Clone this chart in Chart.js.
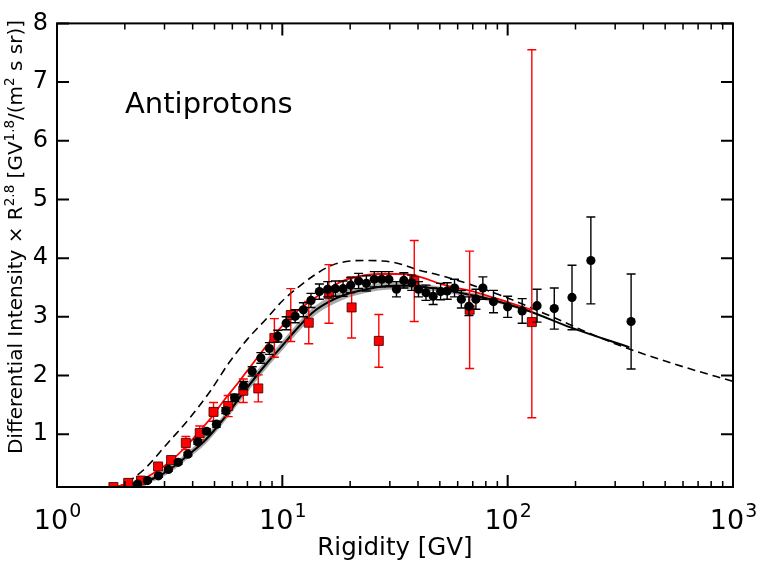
<!DOCTYPE html>
<html><head><meta charset="utf-8">
<script src="https://cdn.jsdelivr.net/npm/chart.js@4.4.1/dist/chart.umd.min.js"></script>
<style>html,body{margin:0;padding:0;background:#fff;}#wrap{width:759px;height:561px;}</style>
</head><body><div id="wrap"><canvas id="c" width="759" height="561"></canvas></div>
<script>
// ---- data ----
const blackR = [2.28,2.52,2.82,3.12,3.45,3.81,4.21,4.61,5.10,5.61,6.14,6.73,7.35,8.03,8.76,9.55,10.4,11.4,12.4,13.4,14.6,15.9,17.2,18.6,20.1,21.8,23.6,25.6,27.6,29.7,32.1,34.6,37.5,40.2,43.4,46.7,50.4,53.9,58.1,62.3,67.3,72.3,77.6,86.5,100,116,135,161,193,234,353];
const blackV = [0.15,0.21,0.29,0.40,0.52,0.66,0.87,1.05,1.17,1.40,1.62,1.83,2.07,2.30,2.46,2.67,2.89,3.01,3.12,3.28,3.43,3.47,3.48,3.48,3.54,3.61,3.57,3.64,3.64,3.64,3.47,3.62,3.58,3.47,3.41,3.35,3.43,3.44,3.49,3.30,3.18,3.30,3.49,3.26,3.17,3.10,3.19,3.14,3.33,3.96,2.92];
const blackErr = [0.02,0.02,0.02,0.03,0.03,0.03,0.04,0.04,0.05,0.05,0.06,0.07,0.08,0.09,0.10,0.10,0.11,0.11,0.12,0.12,0.13,0.13,0.13,0.13,0.13,0.13,0.13,0.13,0.13,0.13,0.13,0.13,0.13,0.13,0.13,0.14,0.14,0.14,0.15,0.15,0.16,0.17,0.19,0.19,0.18,0.21,0.28,0.35,0.55,0.74,0.81];

const redR = [1.78,2.07,2.36,2.81,3.21,3.73,4.30,4.95,5.75,6.71,7.82,9.22,10.9,13.1,16.1,20.3,26.8,38.5,67.8,128];
const redV = [0.10,0.17,0.21,0.45,0.56,0.85,1.02,1.38,1.48,1.74,1.78,2.64,3.03,2.90,3.39,3.16,2.59,3.61,3.12,2.91];
const redErrLow = [0.02,0.02,0.03,0.04,0.05,0.11,0.12,0.16,0.18,0.20,0.23,0.33,0.45,0.36,0.50,0.52,0.45,0.69,1.00,1.63];
const redErrHigh = [0.02,0.02,0.03,0.04,0.05,0.11,0.12,0.16,0.18,0.20,0.23,0.33,0.45,0.36,0.50,0.52,0.45,0.69,1.00,4.64];

const modelR = [1.73,2.2,2.78,3.3,3.89,4.5,5.10,5.8,6.69,7.7,8.76,9.70,11.5,13.6,16,19.07,22.4,26.7,31.7,37.6,44,52.6,63,73.7,95,124,190,347];
const modelV = [0.08,0.15,0.27,0.45,0.67,0.88,1.11,1.38,1.70,2.00,2.26,2.45,2.78,3.07,3.25,3.38,3.45,3.51,3.53,3.53,3.50,3.46,3.40,3.35,3.24,3.10,2.82,2.48];

const bandR = [2.2,2.78,3.3,3.89,4.5,5.10,5.8,6.69,7.7,8.76,9.70,11.5,13.6,16,19.07,22.4,26.7,31.7,37.6,44,52.6,63,73.7,95,124];
const bandLow = [0.11,0.22,0.39,0.61,0.81,1.04,1.31,1.62,1.92,2.18,2.37,2.70,2.99,3.17,3.31,3.39,3.45,3.47,3.48,3.45,3.42,3.36,3.31,3.21,3.08];
const bandHigh = [0.19,0.32,0.51,0.73,0.95,1.18,1.45,1.78,2.08,2.34,2.53,2.86,3.15,3.33,3.45,3.51,3.57,3.59,3.58,3.55,3.50,3.44,3.39,3.27,3.12];

const redLineR = [1.73,2.0,2.34,2.8,3.28,3.8,4.31,4.9,5.47,6.2,6.92,7.8,8.76,9.7,11.5,13.6,16,19.07,22.5,26.7,32,38,52.6,73.7,100,128];
const redLineV = [0.08,0.14,0.21,0.38,0.58,0.82,1.06,1.31,1.56,1.82,2.06,2.32,2.57,2.79,3.08,3.29,3.48,3.63,3.70,3.73,3.73,3.71,3.54,3.41,3.25,3.12];

const dashR = [1.6,1.91,2.42,3.07,3.89,4.76,5.83,7,8.46,10,11.9,14,16.6,20,23.4,28,32.7,40.1,50.8,76.2,100,149,266,379,600,1000];
const dashV = [0.02,0.12,0.39,0.83,1.28,1.72,2.23,2.62,2.96,3.27,3.52,3.72,3.88,3.95,3.96,3.95,3.91,3.80,3.70,3.49,3.32,3.04,2.62,2.40,2.15,1.90];

const yTicks = [1,2,3,4,5,6,7,8];
const xMajor = [1,10,100,1000];
const xExp = ['0','1','2','3'];
const xMinorMult = [2,3,4,5,6,7,8,9];
const titleText = 'Antiprotons';
const xTitle = 'Rigidity [GV]';
const yTitleParts = [['Differential Intensity \u00d7 R',false],['2.8',true],[' [GV',false],['1.8',true],['/(m',false],['2',true],[' s sr)]',false]];

// ---- build ----
const pts = (xs, ys) => xs.map((x, i) => ({x: x, y: ys[i]}));
const FONT = '"DejaVu Sans", sans-serif';

function drawErr(ctx, chart, R, V, lo, hi, color, cap, lw) {
  const xs = chart.scales.x, ys = chart.scales.y, a = chart.chartArea;
  ctx.save();
  ctx.beginPath(); ctx.rect(a.left, a.top, a.right - a.left, a.bottom - a.top); ctx.clip();
  ctx.strokeStyle = color; ctx.lineWidth = lw;
  for (let i = 0; i < R.length; i++) {
    const px = xs.getPixelForValue(R[i]);
    const y1 = ys.getPixelForValue(V[i] - lo[i]);
    const y2 = ys.getPixelForValue(V[i] + hi[i]);
    ctx.beginPath();
    ctx.moveTo(px, y1); ctx.lineTo(px, y2);
    ctx.moveTo(px - cap, y1); ctx.lineTo(px + cap, y1);
    ctx.moveTo(px - cap, y2); ctx.lineTo(px + cap, y2);
    ctx.stroke();
  }
  ctx.restore();
}

const decor = {
  id: 'decor',
  beforeDatasetDraw(chart, args) {
    const ctx = chart.ctx;
    if (args.index === 0) drawErr(ctx, chart, blackR, blackV, blackErr, blackErr, '#000', 4.5, 1.4);
    if (args.index === 1) drawErr(ctx, chart, redR, redV, redErrLow, redErrHigh, '#ff0000', 4.5, 1.4);
  },
  afterDraw(chart) {
    const ctx = chart.ctx, a = chart.chartArea, xs = chart.scales.x, ys = chart.scales.y;
    ctx.save();
    ctx.strokeStyle = '#000'; ctx.lineWidth = 2;
    ctx.beginPath();
    yTicks.forEach(v => {
      const py = ys.getPixelForValue(v);
      ctx.moveTo(a.left, py); ctx.lineTo(a.left + 12, py);
      ctx.moveTo(a.right, py); ctx.lineTo(a.right - 12, py);
    });
    xMajor.forEach(v => {
      const px = xs.getPixelForValue(v);
      ctx.moveTo(px, a.bottom); ctx.lineTo(px, a.bottom - 12);
      ctx.moveTo(px, a.top); ctx.lineTo(px, a.top + 12);
    });
    ctx.stroke();
    ctx.lineWidth = 1.5;
    ctx.beginPath();
    xMajor.slice(0, 3).forEach(d => {
      xMinorMult.forEach(m => {
        const px = xs.getPixelForValue(d * m);
        ctx.moveTo(px, a.bottom); ctx.lineTo(px, a.bottom - 6);
        ctx.moveTo(px, a.top); ctx.lineTo(px, a.top + 6);
      });
    });
    ctx.stroke();
    ctx.lineWidth = 2;
    ctx.strokeRect(a.left, a.top, a.right - a.left, a.bottom - a.top);
    // x tick labels
    ctx.fillStyle = '#000';
    ctx.textBaseline = 'alphabetic';
    ctx.textAlign = 'left';
    xMajor.forEach((v, i) => {
      const px = xs.getPixelForValue(v);
      ctx.font = '27px ' + FONT;
      const w1 = ctx.measureText('10').width;
      ctx.font = '19px ' + FONT;
      const w2 = ctx.measureText(xExp[i]).width;
      const x0 = px - (w1 + w2) / 2;
      ctx.font = '27px ' + FONT;
      ctx.fillText('10', x0, 529);
      ctx.font = '19px ' + FONT;
      ctx.fillText(xExp[i], x0 + w1 + 1, 517);
    });
    // x title
    ctx.font = '24.5px ' + FONT;
    ctx.textAlign = 'center';
    ctx.fillText(xTitle, (a.left + a.right) / 2, 555);
    // panel title
    ctx.textAlign = 'left';
    ctx.font = '29px ' + FONT;
    ctx.fillText(titleText, 125, 113);
    // y title
    ctx.save();
    ctx.translate(22, 237);
    ctx.rotate(-Math.PI / 2);
    let total = 0;
    yTitleParts.forEach(p => { ctx.font = (p[1] ? '13.5px ' : '20px ') + FONT; total += ctx.measureText(p[0]).width; });
    let x = -total / 2;
    yTitleParts.forEach(p => {
      ctx.font = (p[1] ? '13.5px ' : '20px ') + FONT;
      ctx.fillText(p[0], x, p[1] ? -8 : 0);
      x += ctx.measureText(p[0]).width;
    });
    ctx.restore();
    ctx.restore();
  }
};

const lineDs = (xs, ys, extra) => Object.assign({
  data: pts(xs, ys), showLine: true, pointRadius: 0, pointHoverRadius: 0,
  cubicInterpolationMode: 'monotone', fill: false
}, extra);

new Chart(document.getElementById('c'), {
  type: 'scatter',
  data: {
    datasets: [
      { data: pts(blackR, blackV), pointStyle: 'circle', pointRadius: 4.6, backgroundColor: '#000', borderWidth: 0, order: 0 },
      { data: pts(redR, redV), pointStyle: 'rect', pointRadius: 6.4, backgroundColor: '#ff0000', borderColor: '#300', borderWidth: 0.8, order: 1 },
      lineDs(redLineR, redLineV, { borderColor: '#ff0000', borderWidth: 1.8, order: 2 }),
      lineDs(modelR, modelV, { borderColor: '#000', borderWidth: 2, order: 3 }),
      lineDs(bandR, bandHigh, { borderWidth: 0, borderColor: 'rgba(0,0,0,0)', backgroundColor: 'rgba(140,140,140,0.75)', fill: '+1', order: 4 }),
      lineDs(bandR, bandLow, { borderWidth: 0, borderColor: 'rgba(0,0,0,0)', order: 5 }),
      lineDs(dashR, dashV, { borderColor: '#000', borderWidth: 1.6, borderDash: [8, 5], order: 6 })
    ]
  },
  options: {
    responsive: false, animation: false, devicePixelRatio: 1,
    layout: { padding: { top: 15, right: 26, left: 0, bottom: 0 } },
    plugins: { legend: { display: false }, tooltip: { enabled: false } },
    scales: {
      x: {
        type: 'logarithmic', min: 1, max: 1000,
        grid: { display: false, drawTicks: false }, border: { display: false },
        ticks: { display: false },
        afterFit: s => { s.height = 74; }
      },
      y: {
        type: 'linear', min: 0.1, max: 8,
        grid: { display: false, drawTicks: false }, border: { display: false },
        afterBuildTicks: s => { s.ticks = yTicks.map(v => ({ value: v })); },
        ticks: { color: '#000', font: { family: FONT, size: 24 }, padding: 9, callback: v => String(v) },
        afterFit: s => { s.width = 57; }
      }
    }
  },
  plugins: [decor]
});
</script>
</body></html>
